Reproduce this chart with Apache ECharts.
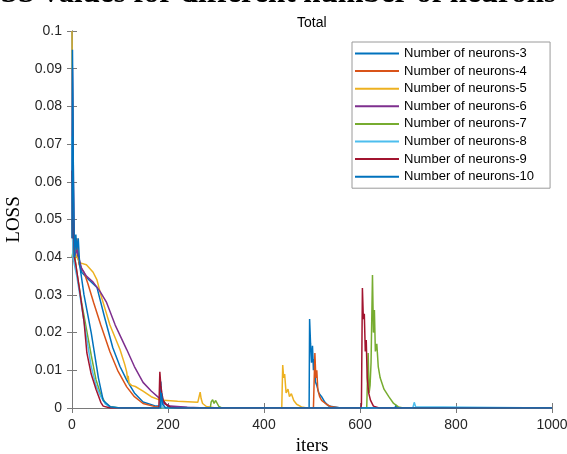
<!DOCTYPE html>
<html>
<head>
<meta charset="utf-8">
<script src="https://cdn.jsdelivr.net/npm/echarts@6/dist/echarts.min.js"></script>
<style>
  html, body { margin: 0; padding: 0; background: #fff; }
  #app { width: 567px; height: 454px; }
</style>
</head>
<body>
<div id="app"></div>
<script>
// loss curves, [iter, loss]
const names = ['Number of neurons-3', 'Number of neurons-4', 'Number of neurons-5', 'Number of neurons-6',
  'Number of neurons-7', 'Number of neurons-8', 'Number of neurons-9', 'Number of neurons-10'];
const colors = ['#0072BD', '#D95319', '#EDB120', '#7E2F8E', '#77AC30', '#4DBEEE', '#A2142F', '#0072BD'];

const n3 = [[0, 0.1], [2, 0.07], [4, 0.04], [8, 0.045], [12, 0.04], [20, 0.036], [35, 0.034], [52, 0.032],
  [68, 0.024], [85, 0.016], [100, 0.011], [114, 0.0074], [130, 0.004], [148, 0.0016], [175, 0.0005],
  [183, 0.0005], [185, 0.007], [187, 0.003], [190, 0.002], [200, 0.0003], [260, 0], [494, 0],
  [495, 0.0236], [497, 0.017], [499, 0.012], [501, 0.0165], [503, 0.01], [505, 0.013], [507, 0.007],
  [510, 0.006], [514, 0.004], [520, 0.003], [527, 0.0015], [535, 0.0005], [560, 0], [673, 0],
  [675, 0.0008], [678, 0], [1000, 0]];
const n4 = [[0, 0.05], [2, 0.042], [5, 0.04], [10, 0.045], [15, 0.038], [25, 0.036], [33, 0.033],
  [45, 0.028], [60, 0.022], [79, 0.0149], [95, 0.01], [114, 0.0056], [130, 0.003], [148, 0.0012],
  [175, 0.0003], [200, 0], [503, 0], [506, 0.0146], [508, 0.008], [510, 0.01], [512, 0.005],
  [516, 0.003], [520, 0.002], [530, 0.001], [540, 0.0003], [560, 0], [1000, 0]];
const n5 = [[0, 0.1], [2, 0.05], [5, 0.042], [10, 0.04], [17, 0.0385], [30, 0.038], [44, 0.036],
  [52, 0.034], [60, 0.03], [79, 0.022], [100, 0.0155], [110, 0.0115], [114, 0.0095], [116, 0.0075],
  [117, 0.0085], [119, 0.0066], [124, 0.006], [132, 0.0057], [148, 0.0045], [165, 0.003], [183, 0.0021],
  [220, 0.0018], [262, 0.0015], [267, 0.0042], [269, 0.0025], [272, 0.0012], [280, 0.0004], [300, 0],
  [437, 0], [439, 0.0114], [441, 0.008], [443, 0.009], [446, 0.004], [450, 0.005], [453, 0.003],
  [457, 0.0038], [462, 0.002], [468, 0.001], [478, 0.0003], [490, 0], [1000, 0]];
const n6 = [[0, 0.06], [1, 0.09], [3, 0.06], [5, 0.04], [10, 0.042], [20, 0.037], [30, 0.035],
  [44, 0.0334], [58, 0.031], [72, 0.028], [90, 0.022], [114, 0.0155], [130, 0.011], [148, 0.0068],
  [165, 0.0045], [183, 0.0025], [192, 0.0012], [205, 0.0005], [240, 0.0002], [280, 0], [766, 0],
  [769, 0.0005], [772, 0], [1000, 0]];
const n7 = [[0, 0.04], [3, 0.042], [6, 0.04], [10, 0.036], [20, 0.028], [30, 0.021], [40, 0.014],
  [50, 0.0075], [60, 0.0035], [70, 0.0012], [80, 0.0003], [100, 0], [288, 0], [290, 0.0016],
  [293, 0.0022], [296, 0.0012], [299, 0.002], [302, 0.0016], [306, 0.0004], [312, 0], [614, 0],
  [617, 0.0146], [619, 0.004], [621, 0.006], [623, 0.012], [626, 0.0353], [628, 0.02], [630, 0.026],
  [632, 0.015], [635, 0.017], [638, 0.011], [642, 0.008], [646, 0.0065], [650, 0.005], [660, 0.003],
  [670, 0.0012], [680, 0.0003], [690, 0], [1000, 0]];
const n8 = [[0, 0.072], [1, 0.055], [2, 0.04], [5, 0.038], [10, 0.035], [20, 0.027], [30, 0.019],
  [40, 0.011], [50, 0.006], [60, 0.003], [70, 0.001], [80, 0.0002], [100, 0], [183, 0],
  [185, 0.002], [188, 0], [710, 0], [713, 0.0015], [716, 0.0003], [720, 0], [1000, 0]];
const n9 = [[0, 0.063], [1, 0.045], [3, 0.05], [5, 0.04], [8, 0.038], [15, 0.032], [25, 0.023],
  [31, 0.0146], [40, 0.009], [50, 0.005], [60, 0.0015], [65, 0.0005], [80, 0], [181, 0],
  [183, 0.0096], [185, 0.006], [187, 0.004], [190, 0.002], [195, 0.001], [205, 0.0002], [220, 0],
  [602, 0], [603, 0.001], [605, 0.0318], [607, 0.0236], [609, 0.025], [611, 0.015], [613, 0.018],
  [615, 0.008], [618, 0.004], [622, 0.002], [628, 0.0005], [640, 0], [1000, 0]];
const n10 = [[0, 0.045], [1, 0.095], [3, 0.06], [5, 0.04], [8, 0.046], [10, 0.042], [13, 0.045],
  [16, 0.038], [25, 0.03], [40, 0.02], [55, 0.008], [65, 0.002], [80, 0.0003], [100, 0],
  [184, 0], [186, 0.004], [189, 0.001], [195, 0], [1000, 0]];

const allData = [n3, n4, n5, n6, n7, n8, n9, n10];

var myChart = echarts.init(document.getElementById('app'));

const axisColor = '#7a7a7a';
const labelStyle = { color: '#262626', fontSize: 14, fontFamily: 'Arial, Liberation Sans' };

let option = {
  animation: false,
  backgroundColor: '#fff',
  title: {
    text: 'Total',
    left: 292,
    top: 11,
    textStyle: { fontSize: 14, fontWeight: 'normal', color: '#000', fontFamily: 'Arial, Liberation Sans' }
  },
  // figure caption above the axes, cut off by the top edge in the original
  graphic: [{
    type: 'text',
    left: -44,
    top: -22,
    style: {
      text: 'LOSS values for different number of neurons',
      fontSize: 31,
      fontWeight: 'bold',
      fontFamily: 'Liberation Serif, Times New Roman',
      fill: '#000'
    }
  }],
  grid: { left: 72, right: 15, top: 31, bottom: 46, outerBoundsMode: 'none', containLabel: false },
  legend: {
    orient: 'vertical',
    left: 352,
    top: 42,
    icon: 'rect',
    itemWidth: 44,
    itemHeight: 2,
    itemGap: 4.6,
    padding: [5, 16, 5, 3],
    backgroundColor: '#fff',
    borderColor: '#9a9a9a',
    borderWidth: 1,
    borderRadius: 0,
    textStyle: { fontSize: 13, color: '#000', fontFamily: 'Arial, Liberation Sans' },
    data: names
  },
  xAxis: [{
    type: 'value', min: 0, max: 1000, interval: 200,
    name: 'iters', nameLocation: 'middle', nameGap: 24,
    nameTextStyle: { fontSize: 19, color: '#000', fontFamily: 'Liberation Serif, Times New Roman' },
    axisLine: { lineStyle: { color: axisColor } },
    axisTick: { inside: true, length: 5, lineStyle: { color: axisColor } },
    axisLabel: Object.assign({ margin: 10, formatter: v => String(v) }, labelStyle),
    splitLine: { show: false }
  }, {
    type: 'value', min: 0, max: 1000, interval: 200, position: 'top',
    axisLine: { lineStyle: { color: axisColor } },
    axisTick: { inside: true, length: 5, lineStyle: { color: axisColor } },
    axisLabel: { show: false },
    splitLine: { show: false }
  }],
  yAxis: [{
    type: 'value', min: 0, max: 0.1, interval: 0.01,
    name: 'LOSS', nameLocation: 'middle', nameGap: 40,
    nameTextStyle: { fontSize: 19, color: '#000', fontFamily: 'Liberation Serif, Times New Roman' },
    axisLine: { show: true, lineStyle: { color: axisColor } },
    axisTick: { show: true, inside: true, length: 5, lineStyle: { color: axisColor } },
    axisLabel: Object.assign({ margin: 10 }, labelStyle),
    splitLine: { show: false }
  }, {
    type: 'value', min: 0, max: 0.1, interval: 0.01, position: 'right',
    axisLine: { show: true, lineStyle: { color: axisColor } },
    axisTick: { show: true, inside: true, length: 5, lineStyle: { color: axisColor } },
    axisLabel: { show: false },
    splitLine: { show: false }
  }],
  series: allData.map((d, i) => ({
    name: names[i],
    type: 'line',
    data: d,
    symbol: 'none',
    color: colors[i],
    lineStyle: { width: 1.5, color: colors[i] }
  }))
};

myChart.setOption(option);
</script>
</body>
</html>
